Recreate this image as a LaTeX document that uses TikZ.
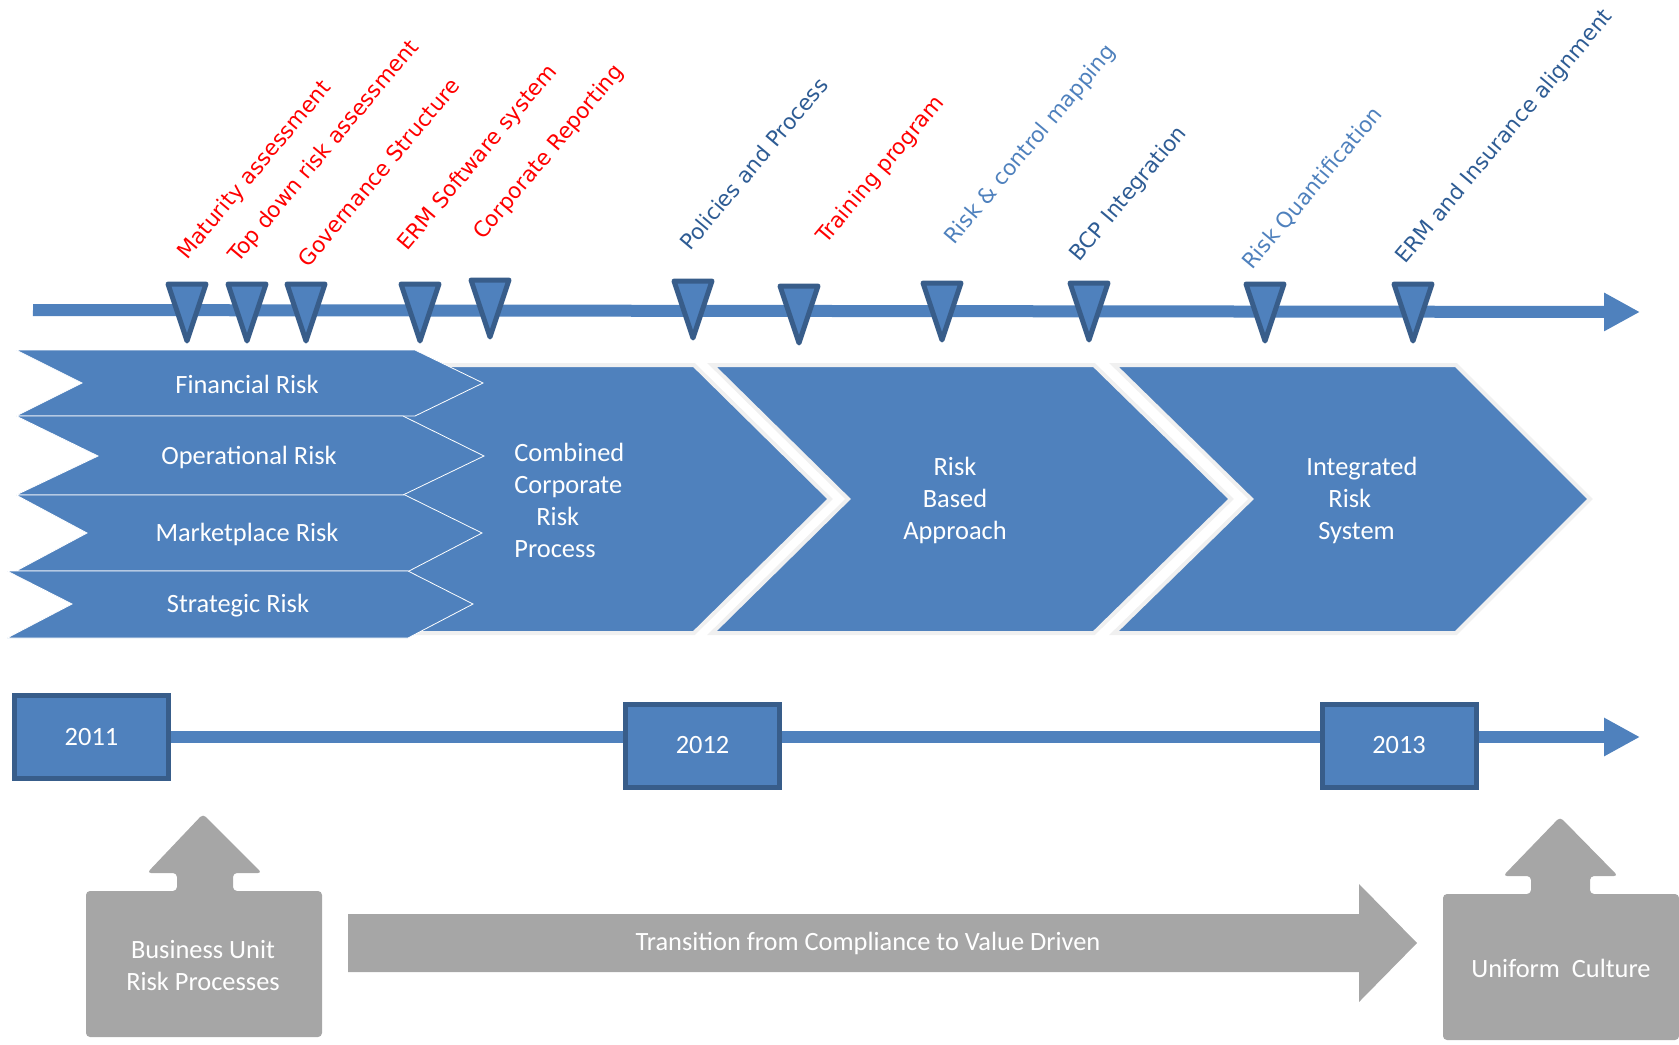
\documentclass[tikz,border=0pt]{standalone}
\usepackage{fontspec}
\setmainfont{Carlito}
\newfontfamily\tagfont{DejaVu Sans}
\usetikzlibrary{arrows.meta,positioning}

\definecolor{stageblue}{HTML}{4F81BD}
\definecolor{rimblue}{HTML}{385D8A}
\definecolor{shadegrey}{HTML}{A6A6A6}
\definecolor{tagred}{HTML}{FF0000}
\definecolor{tagdark}{HTML}{2E5C94}
\definecolor{taglight}{HTML}{4F81BD}

\begin{document}
\begin{tikzpicture}[x=0.5pt,y=-0.5pt,
    stage/.style={fill=stageblue,draw=black!6,line width=2pt},
    riskrow/.style={fill=stageblue,draw=white,line width=0.4pt},
    milestone/.style={fill=stageblue,draw=rimblue,line width=2.5pt,line join=round},
    yearbox/.style={rectangle,fill=stageblue,draw=rimblue,line width=2.5pt,minimum width=77pt,minimum height=41.5pt,text=white,font=\fontsize{13.2}{16}\selectfont},
    axis/.style={draw=stageblue,line width=6pt,-{Triangle[length=18pt,width=18pt]}},
    plaintext/.style={text=white,align=center,inner sep=0pt,font=\fontsize{13.2}{16}\selectfont},
    greyshape/.style={fill=shadegrey,rounded corners=2pt},
    tag/.style={rotate=50,anchor=base west,inner sep=0pt,font=\tagfont\fontsize{10.8}{12}\selectfont}
    ]

  \useasboundingbox (0,0) rectangle (1679,1044);

  % stages
  \draw[stage] (400,365) -- (694,365) -- (830,499) -- (694,633) -- (400,633) -- cycle;
  \draw[stage] (712,365) -- (1094,365) -- (1231,499) -- (1094,633) -- (712,633) -- (848,499) -- cycle;
  \draw[stage] (1114,365) -- (1456,365) -- (1590,499) -- (1456,633) -- (1114,633) -- (1251,499) -- cycle;

  \node(combined) [plaintext,align=left,anchor=west] at (514,500) {Combined\\Corporate\\\hspace{11pt}Risk\\Process};
  \node(riskbased) [plaintext] at (955,500) {Risk\\Based\\Approach};
  \node(integrated) [plaintext,align=left,anchor=west] at (1306,500) {Integrated\\\hspace{11pt}Risk\\\hspace{6pt}System};

  % risk rows
  \draw[riskrow] (16,350) -- (415,350) -- (483,383) -- (415,416) -- (16,416) -- (82,383) -- cycle;
  \draw[riskrow] (16,416) -- (403,416) -- (484,456) -- (403,495) -- (16,495) -- (98,456) -- cycle;
  \draw[riskrow] (16,495) -- (405,495) -- (482,533) -- (409,571) -- (16,571) -- (87,533) -- cycle;
  \draw[riskrow] (7,571) -- (408,571) -- (473,604) -- (408,638) -- (7,638) -- (72,604) -- cycle;

  \node(financial) [plaintext] at (247,384) {Financial Risk};
  \node(operational) [plaintext] at (249,457) {Operational Risk};
  \node(marketplace) [plaintext] at (247,534) {Marketplace Risk};
  \node(strategic) [plaintext] at (238,606) {Strategic Risk};

  % milestone axis
  \coordinate(axisstart) at (33,310);
  \coordinate(axisend) at (1640,312);
  \draw[axis] (axisstart) -- (axisend);

  \draw[milestone] (168,284) -- (206,284) -- (187,341) -- cycle;
  \draw[milestone] (228,284) -- (266,284) -- (247,341) -- cycle;
  \draw[milestone] (287,284) -- (325,284) -- (306,341) -- cycle;
  \draw[milestone] (401,284) -- (439,284) -- (420,341) -- cycle;
  \draw[milestone] (471,280) -- (509,280) -- (490,337) -- cycle;
  \draw[milestone] (674,281) -- (712,281) -- (693,338) -- cycle;
  \draw[milestone] (780,286) -- (818,286) -- (799,343) -- cycle;
  \draw[milestone] (923,283) -- (961,283) -- (942,340) -- cycle;
  \draw[milestone] (1070,283) -- (1108,283) -- (1089,340) -- cycle;
  \draw[milestone] (1246,284) -- (1284,284) -- (1265,341) -- cycle;
  \draw[milestone] (1394,284) -- (1432,284) -- (1413,341) -- cycle;

  \node(maturity) [tag,text=tagred] at (187,261) {Maturity assessment};
  \node(topdown) [tag,text=tagred] at (238,264) {Top down risk assessment};
  \node(governance) [tag,text=tagred] at (308,269) {Governance Structure};
  \node(ermsoftware) [tag,text=tagred] at (407,252) {ERM Software system};
  \node(reporting) [tag,text=tagred] at (483,241) {Corporate Reporting};
  \node(policies) [tag,text=tagdark] at (690,252) {Policies and Process};
  \node(training) [tag,text=tagred] at (826,245) {Training program};
  \node(mapping) [tag,text=taglight] at (954,246) {Risk \& control mapping};
  \node(bcp) [tag,text=tagdark] at (1079,263) {BCP Integration};
  \node(quantification) [tag,text=taglight] at (1252,271) {Risk Quantification};
  \node(insurance) [tag,text=tagdark] at (1405,265) {ERM and Insurance alignment};

  % years
  \node(y2011) [yearbox] at (91.5,737) {2011};
  \node(y2012) [yearbox] at (702.5,745.5) {2012};
  \node(y2013) [yearbox] at (1399,745.5) {2013};
  \coordinate(yearend) at (1640,737);

  \draw[draw=stageblue,line width=6pt] (y2011.east) -- (y2012.west |- y2011.east);
  \draw[draw=stageblue,line width=6pt] (y2012.east |- y2011.east) -- (y2013.west |- y2011.east);
  \draw[axis] (y2013.east |- y2011.east) -- (yearend);

  % culture
  \fill[greyshape] (86,1037) -- (86,891) -- (177,891) -- (177,873) -- (147,873) -- (203,814) -- (262,873) -- (233,873) -- (233,891) -- (322,891) -- (322,1037) -- cycle;
  \fill[greyshape] (1443,1040) -- (1443,894) -- (1531,894) -- (1531,876) -- (1503,876) -- (1560,817) -- (1618,876) -- (1590,876) -- (1590,894) -- (1679,894) -- (1679,1040) -- cycle;
  \fill[fill=shadegrey] (348,914) -- (1359,914) -- (1359,884) -- (1417,943) -- (1359,1002) -- (1359,972) -- (348,972) -- cycle;

  \node(business) [plaintext] at (203,965) {Business Unit\\Risk Processes};
  \node(transition) [plaintext] at (868,943) {Transition from Compliance to Value Driven};
  \node(uniform) [plaintext] at (1561,968) {Uniform\ \ Culture};

\end{tikzpicture}
\end{document}
